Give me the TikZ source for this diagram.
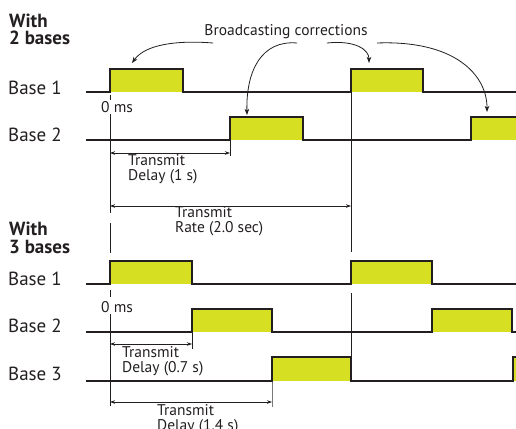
\documentclass[tikz,border=0pt]{standalone}
\usepackage{fontspec}
\setmainfont{PT Sans}
\usetikzlibrary{arrows.meta}
\definecolor{ink}{RGB}{35,31,32}
\definecolor{yel}{RGB}{215,223,35}
\definecolor{tickgray}{RGB}{120,120,120}
\tikzset{
  pulse/.style={draw=ink,line width=2.6pt,line join=miter},
  pulsefill/.style={fill=yel},
  thin/.style={draw=ink,line width=0.9pt},
  dim/.style={draw=ink,line width=0.8pt,{Stealth[length=5pt,width=3.5pt]}-{Stealth[length=5pt,width=3.5pt]}},
  curvearrow/.style={draw=ink,line width=0.8pt,-{Stealth[length=6pt,width=4.5pt,inset=1.5pt]}},
  basel/.style={anchor=base west,inner sep=0pt,font=\fontsize{19}{19}\selectfont,text=ink},
  small/.style={anchor=base west,inner sep=0pt,font=\fontsize{15.5}{15.5}\selectfont,text=ink},
  title/.style={anchor=base west,inner sep=0pt,align=left,font=\fontsize{19}{17.5}\selectfont\bfseries,text=ink},
}
\begin{document}
\begin{tikzpicture}[x=1pt,y=-1pt]
\useasboundingbox (0,0) rectangle (516,428);
% ---------- top section: 2 bases ----------
\node[title] (w2) at (9,45) {With\\2 bases};
\node[basel] (t1l) at (8,94) {Base 1};
\node[basel] (t2l) at (8,141) {Base 2};
% fills
\fill[pulsefill] (110,69) rectangle (183,92);
\fill[pulsefill] (351,69) rectangle (423,92);
\fill[pulsefill] (230,117) rectangle (303,140);
\fill[pulsefill] (471,117) rectangle (516,140);
% vertical reference lines
\draw[thin] (110,95) -- (110,100);
\draw[thin] (110,114) -- (110,213);
\draw[thin] (110,223) -- (110,253);
\draw[thin] (351,92) -- (351,252);
\draw[thin] (230,140) -- (230,156);
% pulses
\draw[pulse] (86,92) -- (110,92) -- (110,69) -- (183,69) -- (183,92) -- (351,92) -- (351,69) -- (423,69) -- (423,92) -- (516,92);
\draw[pulse] (86,140) -- (230,140) -- (230,117) -- (303,117) -- (303,140) -- (471,140) -- (471,117) -- (517,117);
\node[small] (zero1) at (101,112) {0 ms};
% dimensions
\coordinate (d1a) at (110,153); \coordinate (d1b) at (230,153);
\draw[dim] (d1a) -- (d1b);
\node[small] (d1t) at (128,165) {Transmit};
\node[small] (d1d) at (128,180) {Delay (1 s)};
\coordinate (d2a) at (110,206); \coordinate (d2b) at (351,206);
\draw[dim] (d2a) -- (d2b);
\node[small] (d2t) at (175,217) {Transmit};
\node[small] (d2d) at (175,232) {Rate (2.0 sec)};
% broadcasting corrections
\node[anchor=base,inner sep=0pt,font=\fontsize{15.5}{15.5}\selectfont,text=ink] (bc) at (286,36) {Broadcasting corrections};
\coordinate (a1) at (132,63);
\coordinate (a2) at (247,115);
\coordinate (a3) at (369,63);
\coordinate (a4) at (487,112);
\draw[curvearrow] (213,43) .. controls (175,40) and (145,45) .. (a1);
\draw[curvearrow] (297,43) .. controls (262,40) and (246,70) .. (a2);
\draw[curvearrow] (327,43) .. controls (356,40) and (369,50) .. (a3);
\draw[curvearrow] (377,43) .. controls (455,40) and (487,75) .. (a4);
% ---------- bottom section: 3 bases ----------
\node[title] (w3) at (9,253) {With\\3 bases};
\node[basel] (b1l) at (8,285) {Base 1};
\node[basel] (b2l) at (8,332) {Base 2};
\node[basel] (b3l) at (8,380) {Base 3};
\fill[pulsefill] (110,261) rectangle (192,284);
\fill[pulsefill] (351,261) rectangle (432,284);
\fill[pulsefill] (192,309) rectangle (272,332);
\fill[pulsefill] (432,309) rectangle (512,332);
\fill[pulsefill] (272,357) rectangle (351,381);
\fill[pulsefill] (513,357) rectangle (516,381);
\draw[thin] (110,290) -- (110,297);
\draw[thin] (110,314) -- (110,406);
\draw[thin] (351,293) -- (351,381);
\draw[thin] (192,332) -- (192,349);
\draw[draw=tickgray,line width=0.9pt] (272,381) -- (272,407);
\draw[pulse] (86,284) -- (110,284) -- (110,261) -- (192,261) -- (192,284) -- (351,284) -- (351,261) -- (432,261) -- (432,284) -- (517,284);
\draw[pulse] (86,332) -- (192,332) -- (192,309) -- (272,309) -- (272,332) -- (432,332) -- (432,309) -- (512,309) -- (512,332) -- (517,332);
\draw[pulse] (86,381) -- (272,381) -- (272,357) -- (351,357) -- (351,381) -- (513,381) -- (513,357) -- (517,357);
\node[small] (zero2) at (101,312) {0 ms};
\coordinate (d3a) at (110,344); \coordinate (d3b) at (192,344);
\draw[dim] (d3a) -- (d3b);
\node[small] (d3t) at (122,357) {Transmit};
\node[small] (d3d) at (122,372) {Delay (0.7 s)};
\coordinate (d4a) at (110,402); \coordinate (d4b) at (272,402);
\draw[dim] (d4a) -- (d4b);
\node[small] (d4t) at (157,415) {Transmit};
\node[small] (d4d) at (157,430) {Delay (1.4 s)};
\end{tikzpicture}
\end{document}
